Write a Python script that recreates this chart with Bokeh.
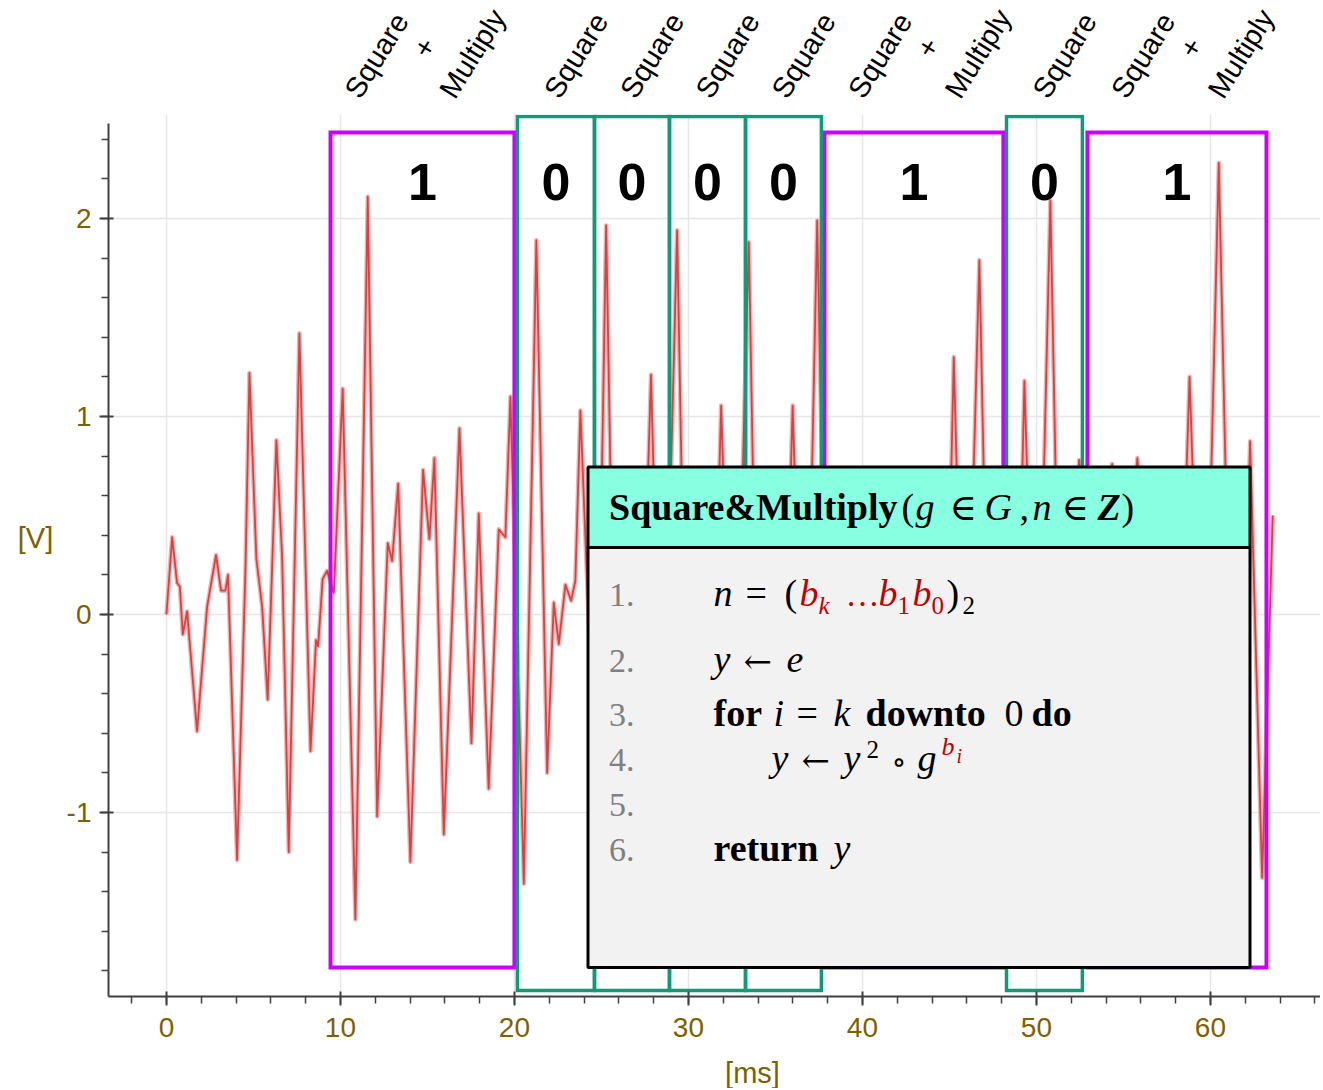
import math
from bokeh.plotting import figure
from bokeh.layouts import column, row
from bokeh.models import Range1d, SingleIntervalTicker, Label, ColumnDataSource, PrintfTickFormatter
from bokeh.embed import file_html
from bokeh.resources import INLINE
from bokeh.core.properties import value

# ---------------- data ----------------
# power trace: time [ms] and voltage [V]
t_ms = [0.00, 0.33, 0.61, 0.77, 0.94, 1.19, 1.76, 2.34, 2.85, 3.14,
        3.39, 3.54, 4.06, 4.54, 4.77, 5.17, 5.50, 5.82, 6.32, 6.65, 7.03,
        7.64, 8.28, 8.60, 8.72, 8.98, 9.23, 9.62, 10.13, 10.86, 11.57,
        12.11, 12.72, 12.97, 13.32, 14.02, 14.75, 15.11, 15.40, 15.94, 16.84,
        17.53, 17.95, 18.52, 19.10, 19.48, 19.77, 20.54, 21.26, 21.88, 22.26,
        22.55, 22.93, 23.26, 23.50, 23.79, 24.70, 25.27, 25.90, 26.80, 27.30,
        27.85, 28.50, 29.35, 30.00, 30.90, 31.40, 31.88, 32.60, 33.47, 34.10,
        35.00, 35.50, 35.99, 36.70, 37.40, 38.10, 39.50, 41.00, 42.50, 43.50,
        44.80, 45.25, 45.90, 46.72, 47.40, 48.60, 48.90, 49.31, 50.00, 50.80,
        51.50, 52.45, 53.20, 54.35, 55.00, 55.80, 56.80, 57.80, 58.30, 58.80,
        59.60, 60.48, 61.30, 61.90, 62.28, 62.97, 63.58]
v_volt = [0.00, 0.39, 0.16, 0.14, -0.10, 0.015, -0.59, 0.04, 0.30, 0.12,
          0.12, 0.20, -1.24, 0.22, 1.22, 0.28, 0.04, -0.43, 0.88, 0.29, -1.20,
          1.42, -0.69, -0.13, -0.16, 0.18, 0.22, 0.11, 1.14, -1.54, 2.11,
          -1.02, 0.36, 0.27, 0.66, -1.25, 0.73, 0.38, 0.79, -1.11, 0.94,
          -0.65, 0.51, -0.88, 0.43, 0.39, 1.10, -1.36, 1.89, -0.80, 0.06,
          -0.15, 0.15, 0.07, 0.17, 1.03, -1.00, 1.965, -1.20, 0.30, -0.40,
          1.21, -1.00, 1.94, -1.20, 0.20, -0.50, 1.055, -1.00, 1.88, -1.20,
          0.20, -0.50, 1.055, -1.00, 1.99, -1.20, 0.30, -0.80, 0.40, -0.60,
          -0.50, 1.30, -0.90, 1.79, -1.10, 0.20, -0.40, 1.18, -0.90, 2.09,
          -1.10, 0.78, -0.20, 0.76, 0.00, 0.79, -0.30, 0.40, -0.20, 1.20,
          -0.90, 2.28, -1.00, -0.30, 0.875, -1.33, 0.50]

# operation segments [ms]
seg_left = [9.43, 20.17, 24.60, 28.91, 33.28, 37.82, 48.28, 52.93]
seg_right = [20.00, 24.60, 28.91, 33.28, 37.64, 48.10, 52.64, 63.22]
seg_op = ["SM", "S", "S", "S", "S", "SM", "S", "SM"]
seg_bit = ["1", "0", "0", "0", "0", "1", "0", "1"]

x_ticks_step = 10
y_ticks_step = 1

# ---------------- geometry (page pixels) ----------------
W_TOTAL = 1320
TOP_H = 114          # strip with rotated operation names
LEFT_W = 56          # strip with [V]
FL = 108             # frame left on page
FT = TOP_H           # frame top on page
FW, FH = W_TOTAL - FL, 882
BOT_B = 60           # bottom border of main plot (ticks + tick labels)
BOT_H = 32           # strip with [ms]

X0, SX = -3.33, 17.4
Y1, SY = 2.525, 198.0
X1 = X0 + FW / SX
Y0 = Y1 - FH / SY
BASE = 0.37          # Bokeh anchors 'alphabetic' text this far (x size) above the glyph baseline


def px2x(px):
    return X0 + (px - FL) / SX


def py2y(py):
    return Y1 - (py - FT) / SY


xr = Range1d(X0, X1)
yr = Range1d(Y0, Y1)


def bare(fig):
    fig.outline_line_color = None
    fig.background_fill_color = "white"
    fig.border_fill_color = "white"
    return fig


# ---------------- main plot ----------------
p = bare(figure(frame_width=FW, frame_height=FH,
                min_border_left=FL - LEFT_W, min_border_right=0,
                min_border_top=0, min_border_bottom=BOT_B,
                x_range=xr, y_range=yr,
                output_backend="svg", toolbar_location=None))

for ax, step in ((p.xaxis[0], x_ticks_step), (p.yaxis[0], y_ticks_step)):
    ax.ticker = SingleIntervalTicker(interval=step, num_minor_ticks=5)
    ax.formatter = PrintfTickFormatter(format="%d")
    ax.axis_line_width = 2
    ax.axis_line_color = "#404040"
    ax.major_tick_line_width = 2
    ax.major_tick_line_color = "#404040"
    ax.minor_tick_line_width = 1.5
    ax.minor_tick_line_color = "#404040"
    ax.major_tick_in = 5
    ax.major_tick_out = 9
    ax.minor_tick_in = 0
    ax.minor_tick_out = 7
    ax.major_label_text_font = "Liberation Sans"
    ax.major_label_text_font_size = "28px"
    ax.major_label_text_color = "#7F6000"
p.xaxis.major_label_standoff = 12
p.yaxis.major_label_standoff = 8
p.yaxis.bounds = (Y0, 2.48)

for g in (p.xgrid[0], p.ygrid[0]):
    g.grid_line_color = "#E6E6E6"
    g.grid_line_width = 1.5
p.xgrid.ticker = SingleIntervalTicker(interval=x_ticks_step)
p.ygrid.ticker = SingleIntervalTicker(interval=y_ticks_step)

# trace
src = ColumnDataSource(dict(t=t_ms, v=v_volt))
p.line("t", "v", source=src, line_color="#F4B2B2", line_width=4.5, line_join="round")
p.line("t", "v", source=src, line_color="#D04545", line_width=1.8, line_join="round")

# segment boxes
sm = [i for i, o in enumerate(seg_op) if o == "SM"]
sq = [i for i, o in enumerate(seg_op) if o == "S"]
p.quad(left=[seg_left[i] for i in sm], right=[seg_right[i] for i in sm],
       top=py2y(132), bottom=py2y(967), fill_alpha=0,
       line_color="#CC00FF", line_width=4, line_join="miter")
p.quad(left=[seg_left[i] for i in sq], right=[seg_right[i] for i in sq],
       top=py2y(116), bottom=py2y(990), fill_alpha=0,
       line_color="#109A78", line_width=3.5, line_join="miter")

# bit values
centers = [(a + b) / 2 for a, b in zip(seg_left, seg_right)]
BIT_SIZE = 52
p.text(x=centers, y=[py2y(201 - BASE * BIT_SIZE)] * len(centers), text=seg_bit,
       text_font=value("Liberation Sans"), text_font_style="bold",
       text_font_size=f"{BIT_SIZE}px", text_color="black",
       text_align="center", text_baseline="alphabetic")

# code box
p.quad(left=[px2x(587.5)], right=[px2x(1249.5)], top=[py2y(547)], bottom=[py2y(967)],
       fill_color="#F2F2F2", line_color="black", line_width=3)
p.quad(left=[px2x(587.5)], right=[px2x(1249.5)], top=[py2y(466.5)], bottom=[py2y(547)],
       fill_color="#88FFE0", line_color="black", line_width=3)


def lab(text, px, base_py, size, style="normal", color="black", font="Liberation Serif"):
    p.add_layout(Label(x=px2x(px), y=py2y(base_py - BASE * size), text=text, text_font=font,
                       text_font_size=f"{size}px", text_font_style=style,
                       text_color=color, text_align="left", text_baseline="alphabetic"))


RED = "#C00000"
HB = 521
lab("Square&Multiply", 608.5, HB, 38, "bold")
for txt, px, st, sz, fn in [("(", 901, "normal", 38, "Liberation Serif"),
                            ("g", 915, "italic", 38, "Liberation Serif"),
                            ("\u2208", 949, "normal", 37, "DejaVu Serif"),
                            ("G", 984, "italic", 38, "Liberation Serif"),
                            (",", 1019, "normal", 38, "Liberation Serif"),
                            ("n", 1032, "italic", 38, "Liberation Serif"),
                            ("\u2208", 1061, "normal", 37, "DejaVu Serif"),
                            ("Z", 1097, "bold italic", 38, "Liberation Serif"),
                            (")", 1121, "normal", 38, "Liberation Serif")]:
    lab(txt, px, HB, sz, st, font=fn)

for num, py in zip(["1.", "2.", "3.", "4.", "5.", "6."], [607, 673, 727, 772, 817, 862]):
    lab(num, 608.5, py, 34, color="#808080")

L1 = 607
lab("n", 713, L1, 38, "italic")
lab("=", 745, L1, 38)
lab("(", 784, L1, 38)
lab("b", 799, L1, 38, "italic", RED)
lab("k", 818, L1 + 7, 25, "italic", RED)
lab("\u2026", 845, L1, 34, color=RED)
lab("b", 878, L1, 38, "italic", RED)
lab("1", 897, L1 + 7, 25, color=RED)
lab("b", 912, L1, 38, "italic", RED)
lab("0", 931, L1 + 7, 25, color=RED)
lab(")", 946, L1, 38)
lab("2", 962, L1 + 7, 25)

L2 = 673
lab("y", 713, L2, 38, "italic")
lab("\u2190", 743, L2, 34, font="DejaVu Serif")
lab("e", 786, L2, 38, "italic")

L3 = 727
lab("for", 713, L3, 38, "bold")
lab("i", 773, L3, 38, "italic")
lab("=", 796, L3, 38)
lab("k", 833, L3, 38, "italic")
lab("downto", 865, L3, 38, "bold")
lab("0", 1004, L3, 38)
lab("do", 1031, L3, 38, "bold")

L4 = 772
lab("y", 771, L4, 38, "italic")
lab("\u2190", 801, L4, 34, font="DejaVu Serif")
lab("y", 843, L4, 38, "italic")
lab("2", 866, L4 - 14, 25)
lab("\u2218", 891, L4, 30, font="DejaVu Serif")
lab("g", 917, L4, 38, "italic")
lab("b", 941, L4 - 16, 26, "italic", RED)
lab("i", 956, L4 - 9, 20, "italic", RED)

L6 = 862
lab("return", 713, L6, 38, "bold")
lab("y", 833, L6, 38, "italic")


def strip(height, left_border, width, x_range, y_range):
    f = bare(figure(frame_width=width, frame_height=height,
                    min_border_left=left_border, min_border_right=0,
                    min_border_top=0, min_border_bottom=0,
                    x_range=x_range, y_range=y_range,
                    x_axis_location=None, y_axis_location=None,
                    output_backend="svg", toolbar_location=None))
    f.xgrid.visible = False
    f.ygrid.visible = False
    return f


# ---------------- top strip: operation names ----------------
top = strip(TOP_H, FL, FW, xr, Range1d(TOP_H, 0))
ops_px = {"S": [("Square", 20, 55)],
          "SM": [("Square", -34, 55), ("+", 14, 47), ("Multiply", 64, 53)]}
first_ops = [("Square", -46, 55), ("+", 2, 47), ("Multiply", 50, 53)]
lx, ly, lt = [], [], []
first = True
for c, o in zip(centers, seg_op):
    items = ops_px[o]
    if o == "SM" and first:
        items = first_ops
        first = False
    for txt, dx, py in items:
        lx.append(c + dx / SX)
        ly.append(py)
        lt.append(txt)
top.text(x=lx, y=ly, text=lt, angle=math.radians(58),
         text_font=value("Liberation Sans"), text_font_size="29px",
         text_color="black", text_align="center", text_baseline="middle")

# ---------------- left strip: [V] ----------------
left = strip(FH + BOT_B, 0, LEFT_W, Range1d(0, LEFT_W), Range1d(FH + BOT_B, 0))
left.text(x=[35], y=[537 - FT], text=["[V]"], text_font=value("Liberation Sans"),
          text_font_size="29px", text_color="#7F6000",
          text_align="center", text_baseline="middle")

# ---------------- bottom strip: [ms] ----------------
bot = strip(BOT_H, FL, FW, xr, Range1d(BOT_H, 0))
bot.text(x=[px2x(752)], y=[1072 - (FT + FH + BOT_B)], text=["[ms]"],
         text_font=value("Liberation Sans"),
         text_font_size="29px", text_color="#7F6000",
         text_align="center", text_baseline="middle")

layout = column(top, row(left, p), bot)
open("out.html", "w").write(file_html(layout, INLINE))
